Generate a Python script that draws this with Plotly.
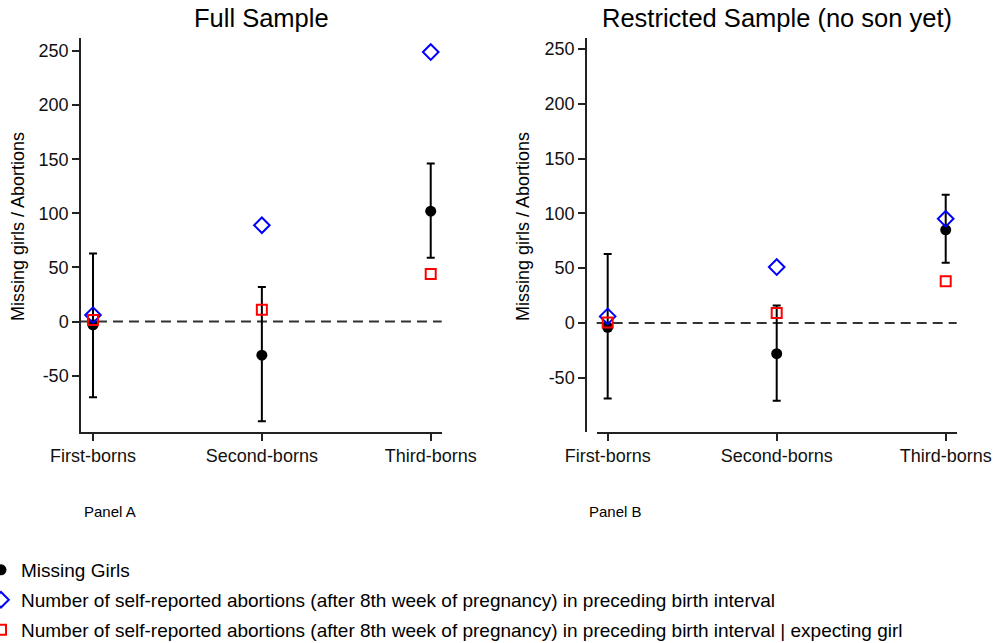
import plotly.graph_objects as go

categories = ["First-borns", "Second-borns", "Third-borns"]

# Panel A: Full Sample
a_missing = [-3, -31, 102]
a_missing_lo = [-70, -92, 59]
a_missing_hi = [63, 32, 146]
a_abort = [6, 89, 249]
a_abort_girl = [1.5, 11, 44]

# Panel B: Restricted Sample (no son yet)
b_missing = [-4, -28, 85]
b_missing_lo = [-69, -71, 55]
b_missing_hi = [63, 16, 117]
b_abort = [6, 51, 95]
b_abort_girl = [0.5, 9, 38]

yticks = [-50, 0, 50, 100, 150, 200, 250]
yticklabels = ["-50", "0", "50", "100", "150", "200", "250"]

W, H = 996, 643
FONT = "Liberation Sans, Arial, sans-serif"

def px(x):
    return x / W

def py(y):
    return 1 - y / H

fig = go.Figure()

def add_panel(xa, ya, miss, lo, hi, ab, abg, show):
    fig.add_trace(go.Scatter(
        x=categories, y=miss, mode="markers", name="Missing Girls",
        marker=dict(symbol="circle", size=11, color="black"),
        error_y=dict(type="data", symmetric=False,
                     array=[h - m for h, m in zip(hi, miss)],
                     arrayminus=[m - l for m, l in zip(miss, lo)],
                     color="black", thickness=2, width=4),
        xaxis=xa, yaxis=ya, showlegend=show, legendrank=1, legendgroup="g1"))
    fig.add_trace(go.Scatter(
        x=categories, y=ab, mode="markers",
        name="Number of self-reported abortions (after 8th week of pregnancy) in preceding birth interval",
        marker=dict(symbol="diamond-open", size=12, color="#0000FF", line=dict(width=2)),
        xaxis=xa, yaxis=ya, showlegend=show, legendrank=2, legendgroup="g2"))
    fig.add_trace(go.Scatter(
        x=categories, y=abg, mode="markers",
        name="Number of self-reported abortions (after 8th week of pregnancy) in preceding birth interval | expecting girl",
        marker=dict(symbol="square-open", size=10, color="#FF0000", line=dict(width=2)),
        xaxis=xa, yaxis=ya, showlegend=show, legendrank=3, legendgroup="g3"))

add_panel("x", "y", a_missing, a_missing_lo, a_missing_hi, a_abort, a_abort_girl, True)
add_panel("x2", "y2", b_missing, b_missing_lo, b_missing_hi, b_abort, b_abort_girl, False)

axis_common = dict(showline=True, linecolor="#222", linewidth=1.5, ticks="outside",
                   ticklen=7, tickwidth=1.5, tickcolor="#222", showgrid=False, zeroline=False,
                   automargin=False,
                   tickfont=dict(family=FONT, size=18, color="#111"))

ydom = [py(432), py(38)]
fig.update_layout(
    xaxis=dict(domain=[px(81), px(441.7)], anchor="y", range=[-0.071, 2.065],
               type="category", **axis_common),
    yaxis=dict(domain=ydom, anchor="x", range=[-102, 262], tickvals=yticks,
               ticktext=yticklabels, **axis_common),
    xaxis2=dict(domain=[px(596.7), px(956.7)], anchor="y2", range=[-0.065, 2.065],
                type="category", **axis_common),
    yaxis2=dict(domain=ydom, anchor="free", position=px(586),
                range=[-99.5, 260], tickvals=yticks, ticktext=yticklabels, **axis_common),
)

# dashed zero lines
for xr, yr in (("x domain", "y"), ("x2 domain", "y2")):
    fig.add_shape(type="line", xref=xr, yref=yr, x0=0, x1=1, y0=0, y1=0,
                  line=dict(color="#333", width=2, dash="10px,6px"), layer="below")

ann = []
ann.append(dict(text="Full Sample", x=px(261), y=py(18), xref="paper", yref="paper",
                showarrow=False, font=dict(family=FONT, size=25.5, color="black"),
                xanchor="center", yanchor="middle"))
ann.append(dict(text="Restricted Sample (no son yet)", x=px(777), y=py(18), xref="paper", yref="paper",
                showarrow=False, font=dict(family=FONT, size=25.5, color="black"),
                xanchor="center", yanchor="middle"))
for xc in (18, 523):
    ann.append(dict(text="Missing girls / Abortions", x=px(xc), y=py(227), xref="paper", yref="paper",
                    showarrow=False, textangle=-90, font=dict(family=FONT, size=18, color="black"),
                    xanchor="center", yanchor="middle"))
ann.append(dict(text="Panel A", x=px(110), y=py(511), xref="paper", yref="paper", showarrow=False,
                font=dict(family=FONT, size=15, color="black"), xanchor="center", yanchor="middle"))
ann.append(dict(text="Panel B", x=px(615), y=py(511), xref="paper", yref="paper", showarrow=False,
                font=dict(family=FONT, size=15, color="black"), xanchor="center", yanchor="middle"))

fig.update_layout(
    annotations=ann,
    width=W, height=H,
    margin=dict(l=0, r=0, t=0, b=0, autoexpand=False),
    paper_bgcolor="white", plot_bgcolor="white",
    font=dict(family=FONT, size=18, color="black"),
    legend=dict(x=px(-19), y=py(551), xanchor="left", yanchor="top",
                font=dict(family=FONT, size=19, color="black"),
                bgcolor="rgba(0,0,0,0)", tracegroupgap=2.2, itemwidth=30),
)

fig.write_html("out.html")
